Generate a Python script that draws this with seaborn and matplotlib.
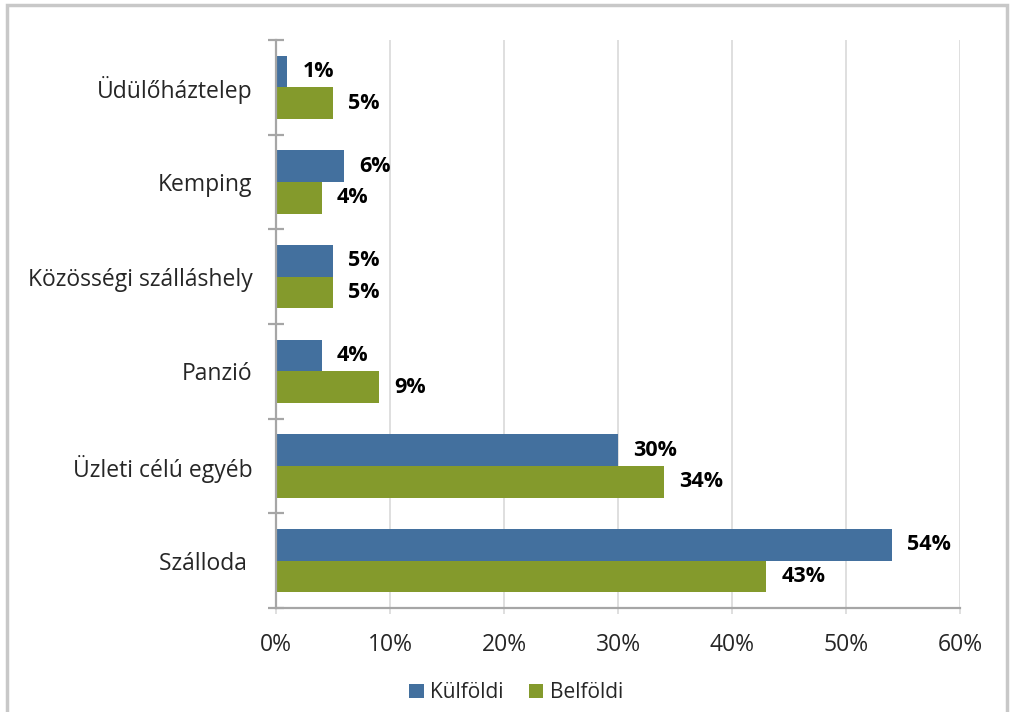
import pandas as pd
import seaborn as sns
import matplotlib.pyplot as plt
from matplotlib.patches import Rectangle
from matplotlib.ticker import PercentFormatter, FixedLocator

# data
categories = ['Üdülőháztelep', 'Kemping', 'Közösségi szálláshely',
               'Panzió', 'Üzleti célú egyéb', 'Szálloda ']
kulfoldi = [1, 6, 5, 4, 30, 54]
belfoldi = [5, 4, 5, 9, 34, 43]
series = ['Külföldi', 'Belföldi']
colors = {'Külföldi': '#43709E', 'Belföldi': '#849A2C'}

df = pd.DataFrame({
    'kategoria': categories * 2,
    'ertek': kulfoldi + belfoldi,
    'tipus': [series[0]] * len(categories) + [series[1]] * len(categories),
})

sns.set_style('white')
plt.rcParams['font.family'] = ['Open Sans', 'DejaVu Sans']

fig = plt.figure(figsize=(10.1, 7.12), dpi=100)
ax = fig.add_axes([0.2733, 0.1461, 0.6772, 0.7978])

sns.barplot(data=df, y='kategoria', x='ertek', hue='tipus', orient='h',
            palette=colors, width=0.667, gap=0, saturation=1, linewidth=0,
            order=categories, hue_order=series, ax=ax, legend=True)

# value labels
for cont in ax.containers:
    ax.bar_label(cont, fmt='{:.0f}%', padding=11, fontsize=15.5,
                 fontweight='bold', color='black')

ax.set_xlim(0, 60)
ax.set_ylim(5.5, -0.5)
ax.xaxis.set_major_formatter(PercentFormatter(decimals=0))
ax.set_xticks(range(0, 61, 10))
ax.grid(axis='x', color='#d9d9d9', linewidth=1.2)
ax.set_axisbelow(True)
ax.set_xlabel('')
ax.set_ylabel('')

for side in ['top', 'right']:
    ax.spines[side].set_visible(False)
for side in ['left', 'bottom']:
    ax.spines[side].set_color('#a6a6a6')
    ax.spines[side].set_linewidth(1.6)

ax.tick_params(axis='x', labelsize=16.5, length=4, color='#d9d9d9',
               width=1.2, pad=14, bottom=True)
ax.tick_params(axis='y', which='major', labelsize=16.5, length=0, pad=17)
ax.yaxis.set_minor_locator(FixedLocator([i - 0.5 for i in range(len(categories) + 1)]))
ax.tick_params(axis='y', which='minor', direction='inout', length=11,
               width=1.6, color='#a6a6a6', left=True)

# legend below
handles, labels = ax.get_legend_handles_labels()
ax.get_legend().remove()
fig.legend(handles, labels, loc='center', bbox_to_anchor=(0.511, 0.027),
           ncol=2, frameon=False, fontsize=15, handlelength=0.7,
           handleheight=0.7, handletextpad=0.3, columnspacing=1.2)

# outer chart border
fig.patches.append(Rectangle((7 / 1010, -0.05), 1000 / 1010, 1.05 - 5 / 712,
                             transform=fig.transFigure, fill=False,
                             edgecolor='#c8c8c8', linewidth=2.5))

fig.savefig('out.png', dpi=100)
